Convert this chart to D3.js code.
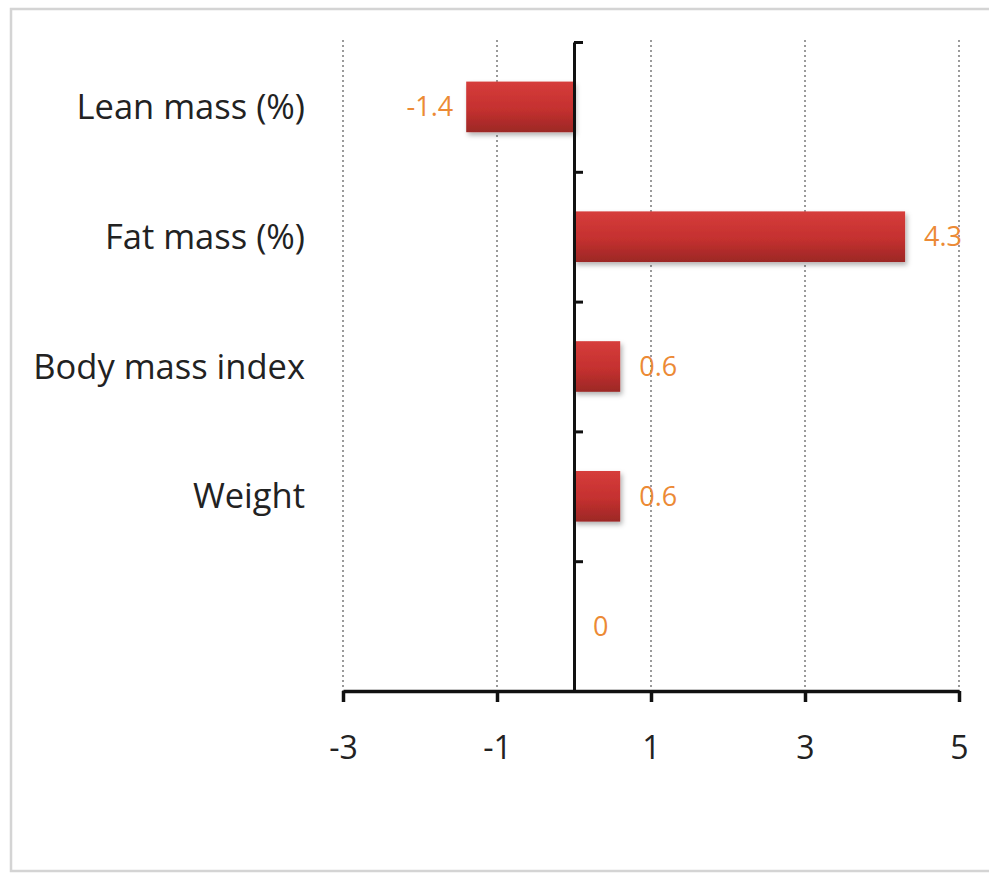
<!DOCTYPE html>
<html>
<head>
<meta charset="utf-8">
<script src="https://cdn.jsdelivr.net/npm/d3@7"></script>
<style>
  html, body { margin: 0; padding: 0; background: #fff; }
  svg { display: block; }
</style>
</head>
<body>
<svg id="chart" width="989" height="873"></svg>
<script>
// ---- data ----
const categories = ["Lean mass (%)", "Fat mass (%)", "Body mass index", "Weight", ""];
const values = [-1.4, 4.3, 0.6, 0.6, 0];
const valueLabels = ["-1.4", "4.3", "0.6", "0.6", "0"];
const xTicks = [-3, -1, 1, 3, 5];
const xDomain = [-3, 5];

const svg = d3.select("#chart");
const font = "'Open Sans', 'Liberation Sans', sans-serif";

// outer frame
svg.append("rect")
  .attr("x", 11).attr("y", 9).attr("width", 990).attr("height", 862)
  .attr("fill", "#fff").attr("stroke", "#d4d4d4").attr("stroke-width", 2.5);

const pLeft = 343, pRight = 959, pTop = 42, pBottom = 691;

const x = d3.scaleLinear().domain(xDomain).range([pLeft, pRight]);
const yBand = d3.scaleBand().domain(d3.range(categories.length)).range([pTop, pBottom]).padding(0);
const bh = yBand.bandwidth() * 0.39;

// gradient
const defs = svg.append("defs");
const grad = defs.append("linearGradient").attr("id", "barGrad")
  .attr("x1", 0).attr("y1", 0).attr("x2", 0).attr("y2", 1);
grad.append("stop").attr("offset", "0%").attr("stop-color", "#d63d3b");
grad.append("stop").attr("offset", "55%").attr("stop-color", "#c4302f");
grad.append("stop").attr("offset", "100%").attr("stop-color", "#9c2826");
const filt = defs.append("filter").attr("id", "shadow").attr("x", "-10%").attr("y", "-20%").attr("width", "130%").attr("height", "160%");
filt.append("feDropShadow").attr("dx", 2).attr("dy", 3).attr("stdDeviation", 2.5)
  .attr("flood-color", "#000").attr("flood-opacity", 0.3);

// gridlines
svg.append("g").selectAll("line").data(xTicks).join("line")
  .attr("x1", d => x(d)).attr("x2", d => x(d))
  .attr("y1", pTop - 2).attr("y2", pBottom)
  .attr("stroke", "#9a9a9a").attr("stroke-width", 2)
  .attr("stroke-dasharray", "2,3");

// bars
svg.append("g").selectAll("rect").data(values).join("rect")
  .attr("x", d => x(Math.min(0, d)))
  .attr("width", d => Math.abs(x(d) - x(0)))
  .attr("y", (d, i) => yBand(i) + yBand.bandwidth() / 2 - bh / 2)
  .attr("height", bh)
  .attr("fill", "url(#barGrad)")
  .attr("filter", "url(#shadow)");

// value labels
svg.append("g").selectAll("text").data(values).join("text")
  .attr("x", d => d < 0 ? x(d) - 13 : x(d) + 19)
  .attr("y", (d, i) => yBand(i) + yBand.bandwidth() / 2)
  .attr("dy", "0.35em")
  .attr("text-anchor", d => d < 0 ? "end" : "start")
  .attr("font-family", font).attr("font-size", 27)
  .attr("fill", "#ec8a35")
  .text((d, i) => valueLabels[i]);

// y axis (category axis at x=0), ticks between categories
const yLine = d3.scaleLinear().domain([0, categories.length]).range([pTop, pBottom]);
const yAxisG = svg.append("g").attr("transform", `translate(${x(0)},0)`)
  .call(d3.axisRight(yLine).tickValues(d3.range(categories.length)).tickSize(9).tickSizeOuter(0).tickFormat(""));
yAxisG.select(".domain").attr("stroke", "#111").attr("stroke-width", 3);
yAxisG.selectAll(".tick line").attr("stroke", "#111").attr("stroke-width", 3);

// category labels
svg.append("g").selectAll("text").data(categories).join("text")
  .attr("x", 305)
  .attr("y", (d, i) => yBand(i) + yBand.bandwidth() / 2)
  .attr("dy", "0.35em")
  .attr("text-anchor", "end")
  .attr("font-family", font).attr("font-size", 34.5)
  .attr("fill", "#222")
  .text(d => d);

// x axis
const xAxisG = svg.append("g").attr("transform", `translate(0,${pBottom})`)
  .call(d3.axisBottom(x).tickValues(xTicks).tickSize(11).tickSizeOuter(0).tickPadding(34).tickFormat(d => String(d)));
xAxisG.select(".domain").attr("stroke", "#111").attr("stroke-width", 3.5);
xAxisG.selectAll(".tick line").attr("stroke", "#111").attr("stroke-width", 3.5);
xAxisG.selectAll(".tick text").attr("font-family", font).attr("font-size", 32).attr("fill", "#222");
</script>
</body>
</html>
